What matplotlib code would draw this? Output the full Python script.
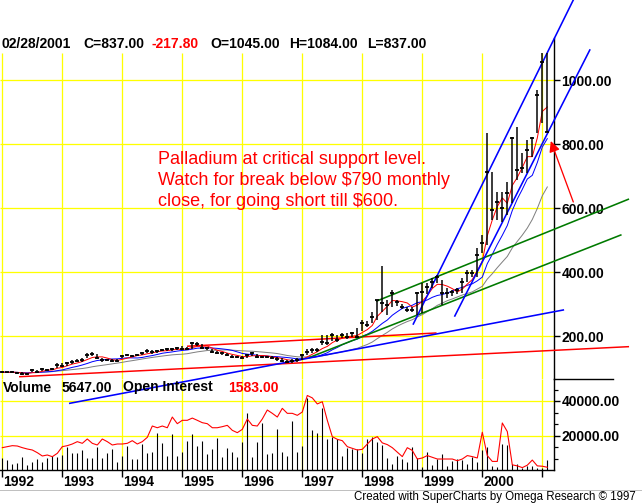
import matplotlib
matplotlib.use('Agg')
import matplotlib.pyplot as plt
from matplotlib.lines import Line2D
from matplotlib.transforms import blended_transform_factory
import numpy as np
import pandas as pd

plt.rcParams['font.family'] = ['Liberation Sans', 'DejaVu Sans']

# ---------------- data (monthly, Jan 1992 .. Feb 2001) ----------------
close = [
    87, 86, 87, 85, 81, 81, 94, 87, 97, 94, 97, 109,
    107, 115, 118, 123, 125, 140, 143, 131, 125, 125, 123, 122,
    138, 140, 138, 140, 146, 154, 149, 154, 156, 158, 158, 161,
    158, 160, 177, 175, 161, 161, 151, 148, 146, 141, 135, 135,
    132, 140, 146, 135, 135, 135, 132, 128, 123, 120, 123, 125,
    140, 151, 156, 156, 180, 178, 203, 188, 203, 198, 208, 198,
    240, 234, 260, 312, 302, 297, 333, 307, 292, 281, 281, 333,
    337, 354, 370, 385, 334, 334, 339, 344, 370, 396, 396, 453,
    490, 714, 594, 620, 599, 646, 818, 719, 724, 781, 818, 953,
    1055, 837]
high = [
    90, 89, 90, 88, 86, 85, 97, 93, 100, 98, 101, 115,
    115, 118, 124, 127, 130, 146, 149, 144, 131, 129, 128, 127,
    141, 144, 142, 143, 150, 158, 155, 157, 159, 162, 162, 165,
    170, 165, 180, 182, 176, 166, 160, 152, 150, 148, 142, 139,
    137, 143, 150, 145, 139, 138, 137, 133, 130, 125, 127, 130,
    144, 160, 162, 162, 203, 203, 210, 203, 210, 208, 212, 225,
    250, 248, 276, 313, 419, 313, 344, 312, 300, 290, 290, 339,
    365, 365, 382, 392, 375, 350, 345, 350, 380, 405, 405, 475,
    516, 833, 714, 651, 651, 682, 823, 854, 771, 812, 823, 969,
    1084, 1084]
low = [
    84, 83, 84, 82, 78, 78, 86, 84, 90, 90, 93, 100,
    104, 107, 113, 118, 120, 130, 136, 128, 120, 121, 119, 118,
    132, 136, 134, 136, 140, 146, 145, 148, 152, 154, 154, 157,
    155, 155, 158, 168, 158, 155, 148, 143, 141, 136, 130, 130,
    128, 130, 138, 132, 130, 131, 127, 123, 118, 115, 117, 120,
    124, 140, 148, 150, 172, 172, 185, 182, 195, 192, 198, 195,
    215, 228, 240, 250, 276, 266, 292, 295, 285, 275, 275, 266,
    271, 330, 350, 365, 297, 320, 325, 330, 335, 370, 385, 385,
    459, 484, 562, 562, 557, 578, 615, 687, 708, 708, 760, 833,
    865, 837]
volume = [
    7150, 5800, 3480, 4250, 7730, 2900, 4830, 6180, 4830, 6760, 8120, 7730,
    8700, 13530, 9660, 10050, 11600, 6760, 6760, 13530, 6760, 9660, 12170, 4450,
    8120, 14110, 6180, 6380, 15070, 9660, 10630, 21250, 15460, 8310, 20670, 8120,
    10630, 16810, 20870, 14110, 17000, 9270, 11980, 18740, 7730, 12560, 10630, 7730,
    16430, 32850, 7730, 16040, 27050, 9270, 10050, 23770, 10630, 8310, 28410, 10630,
    14110, 41550, 23190, 21640, 35740, 17970, 19320, 17970, 8120, 12950, 11980, 12170,
    9660, 17970, 18940, 16430, 14330, 6980, 3760, 8360, 6380, 4360, 13310, 6750,
    1790, 10330, 2980, 6380, 9370, 2390, 5370, 6380, 5770, 3400, 7760, 4360,
    11340, 13310, 2390, 1790, 15340, 14330, 3400, 3400, 1190, 2390, 2390, 1190,
    1190, 5647]
open_interest = [
    12950, 13530, 14110, 13910, 12950, 12170, 11600, 10050, 8120, 8700, 7730, 9660,
    13530, 14110, 15070, 16430, 15460, 17970, 15460, 14490, 17970, 16430, 14490, 15070,
    15070, 15460, 17000, 15070, 16430, 18940, 25500, 24500, 25500, 24500, 30700, 26850,
    28800, 28800, 30100, 28800, 27430, 26850, 24500, 24500, 25120, 25890, 22990, 21640,
    23570, 29570, 25890, 25500, 29570, 34780, 32850, 30700, 35740, 32850, 32850, 31690,
    33620, 43200, 41800, 38300, 39580, 28800, 19320, 17780, 17000, 13530, 12560, 11600,
    11980, 15070, 17970, 19320, 15720, 14730, 12940, 10350, 7760, 12940, 11340, 6370,
    6970, 8360, 7360, 6370, 6370, 6370, 6370, 5370, 6370, 8360, 7760, 6970,
    21890, 8360, 4980, 4980, 27260, 22290, 2990, 2390, 1390, 2790, 5770, 2390,
    2190, 1583]

year_labels = ['1992', '1993', '1994', '1995', '1996', '1997', '1998', '1999', '2000']
year_grid_months = [0, 12, 24, 36, 48, 60, 72, 84, 96, 108]
price_ticks = [200, 400, 600, 800, 1000]
volume_ticks = [20000, 40000]

# trend lines drawn on the chart: (month index, price) pairs
trend_blue = [((82.2, 237.5), (114.2, 1250.0)),
              ((90.5, 262.5), (117.5, 1093.8)),
              ((13.5, -10.3), (112.2, 281.3))]
trend_green = [((74.9, 309.4), (125.2, 627.2)),
               ((61.5, 133.4), (123.7, 515.6))]
trend_red = [((3.5, 72.8), (125.2, 166.6)),
             ((37.1, 168.1), (86.7, 209.4))]
arrow_tail = (114.2, 618.8)
arrow_head = (109.7, 809.4)

header = [('02/28/2001', 'black'), ('C=837.00', 'black'), ('-217.80', 'red'),
          ('O=1045.00', 'black'), ('H=1084.00', 'black'), ('L=837.00', 'black')]
note_lines = ['Palladium at critical support level.',
              'Watch for break below $790 monthly',
              'close, for going short till $600.']

# ---------------- layout helpers ----------------
W, H = 642, 504
fig = plt.figure(figsize=(W / 100, H / 100), dpi=100)
fig.patch.set_facecolor('white')

def fx(x):
    return x / W

def fy(y):
    return 1 - y / H

PX = 0.72  # one pixel in points
x_left_px, x_axis_px = 0, 554
month_px, month0_px = 5.0, 2.3
xlim = ((x_left_px - month0_px) / month_px, (x_axis_px - month0_px) / month_px)

price_top_px, price_bot_px = 0, 379
vol_bot_px = 470

def py(ypx):  # pixel -> price
    return (400 - ypx) / 0.32

def vy(ypx):  # pixel -> volume
    return (vol_bot_px - ypx) / 34.5 * 20000

YEL = '#ffff00'
idx = np.arange(len(close))

# ---------------- price panel ----------------
ax = fig.add_axes([fx(0), fy(price_bot_px), fx(x_axis_px), (price_bot_px - price_top_px) / H])
ax.set_facecolor('none')
ax.set_zorder(3)
ax.set_xlim(*xlim)
ax.set_ylim(py(price_bot_px), py(price_top_px))
for s in ['top', 'left', 'bottom']:
    ax.spines[s].set_visible(False)
ax.spines['right'].set_bounds(py(price_bot_px), py(38))
ax.spines['right'].set_linewidth(1.4 * PX)
ax.yaxis.tick_right()
ax.set_yticks(price_ticks)
ax.set_yticklabels([f'{v:.2f}' for v in price_ticks], fontsize=10, fontweight='bold')
ax.tick_params(axis='y', length=6 * PX, width=1.4 * PX, pad=1)
ax.set_xticks([])

ax.vlines(year_grid_months, py(price_bot_px), py(53), colors=YEL, lw=1.3 * PX, zorder=1)
ax.hlines(price_ticks, xlim[0], xlim[1], colors=YEL, lw=1.3 * PX, zorder=1)

s = pd.Series(close, dtype=float)
ma_slow = s.rolling(18, min_periods=1).mean()
ma_mid = s.rolling(9, min_periods=1).mean()
ma_fast = s.rolling(4, min_periods=1).mean()
ax.plot(idx, ma_slow, color='#808080', lw=1 * PX, zorder=3)
ax.plot(idx, ma_mid, color='#0000ff', lw=1 * PX, zorder=3)
ax.plot(idx, ma_fast, color='#ff0000', lw=1 * PX, zorder=3)

for (a, b) in trend_red:
    ax.plot([a[0], b[0]], [a[1], b[1]], color='#ff0000', lw=1.5 * PX, clip_on=False, zorder=4)
for (a, b) in trend_green:
    ax.plot([a[0], b[0]], [a[1], b[1]], color='#007a00', lw=1.6 * PX, clip_on=False, zorder=4)
for (a, b) in trend_blue:
    ax.plot([a[0], b[0]], [a[1], b[1]], color='#0000ff', lw=1.6 * PX, clip_on=False, zorder=4)

ax.vlines(idx, low, high, colors='black', lw=1.5 * PX, zorder=5)
ax.plot(idx, close, ls='none', marker='_', ms=3.2, mew=1.8 * PX, color='black', zorder=6)

ax.annotate('', xy=arrow_head, xytext=arrow_tail,
            arrowprops=dict(arrowstyle='-|>', color='#ff0000', lw=1.3 * PX,
                            mutation_scale=16, shrinkA=0, shrinkB=0),
            annotation_clip=False, zorder=7)

# ---------------- volume panel ----------------
axv = fig.add_axes([fx(0), fy(vol_bot_px), fx(x_axis_px), (vol_bot_px - price_bot_px) / H])
axv.set_facecolor('none')
axv.set_zorder(2)
axv.set_xlim(*xlim)
axv.set_ylim(0, vy(price_bot_px))
for sp in ['top', 'left']:
    axv.spines[sp].set_visible(False)
axv.spines['right'].set_linewidth(1.4 * PX)
axv.spines['bottom'].set_linewidth(1.4 * PX)
axv.yaxis.tick_right()
axv.set_yticks(volume_ticks)
axv.set_yticklabels([f'{v:.2f}' for v in volume_ticks], fontsize=10, fontweight='bold')
axv.set_yticks([20000 / 3, 40000 / 3, 80000 / 3, 100000 / 3, 140000 / 3], minor=True)
axv.tick_params(axis='y', which='major', length=6 * PX, width=1.4 * PX, pad=1)
axv.tick_params(axis='y', which='minor', length=4 * PX, width=1.2 * PX)
axv.set_xticks(year_grid_months)
axv.set_xticklabels([''] * len(year_grid_months))
axv.tick_params(axis='x', direction='out', length=7 * PX, width=1.4 * PX)

axv.vlines(year_grid_months, 0, vy(price_bot_px), colors=YEL, lw=1.3 * PX, zorder=1)
axv.hlines(volume_ticks, xlim[0], xlim[1], colors=YEL, lw=1.3 * PX, zorder=1)
axv.vlines(idx, 0, volume, colors='black', lw=1.1 * PX, zorder=3)
axv.plot(idx, open_interest, color='#ff0000', lw=1.1 * PX, zorder=4)

tr = blended_transform_factory(axv.transData, axv.transAxes)
for m, lab in zip(year_grid_months, year_labels):
    axv.text(m + 0.2, -(482 - vol_bot_px) / (vol_bot_px - price_bot_px), lab, transform=tr,
             ha='left', va='center', fontsize=10, fontweight='bold')

# ---------------- texts and frame lines ----------------
hx = [2, 83, 152, 210, 289, 367]
for (t, c), x in zip(header, hx):
    fig.text(fx(x), fy(44), t, color=c, fontsize=10, fontweight='bold', ha='left', va='center')

vol_txt = [('Volume', 'black', 2.7), ('5647.00', 'black', 61.7),
           ('Open Interest', 'black', 122.7), ('1583.00', 'red', 227.7)]
for t, c, x in vol_txt:
    fig.text(fx(x), fy(387.5), t, color=c, fontsize=10, fontweight='bold',
             ha='left', va='center', zorder=10)

for k, line in enumerate(note_lines):
    fig.text(fx(158), fy(159.5 + 21 * k), line, color='#ff0000', fontsize=13,
             ha='left', va='center', zorder=10)

fig.add_artist(Line2D([fx(554), fx(613)], [fy(379), fy(379)], color='black', lw=1.4 * PX))
fig.add_artist(Line2D([0, 1], [fy(489.5), fy(489.5)], color='#c0c0c0', lw=1 * PX))
fig.text(fx(495), fy(497), 'Created with SuperCharts by Omega Research \u00a9 1997',
         fontsize=8.3, ha='center', va='center')

fig.savefig('out.png', dpi=100, facecolor='white')
